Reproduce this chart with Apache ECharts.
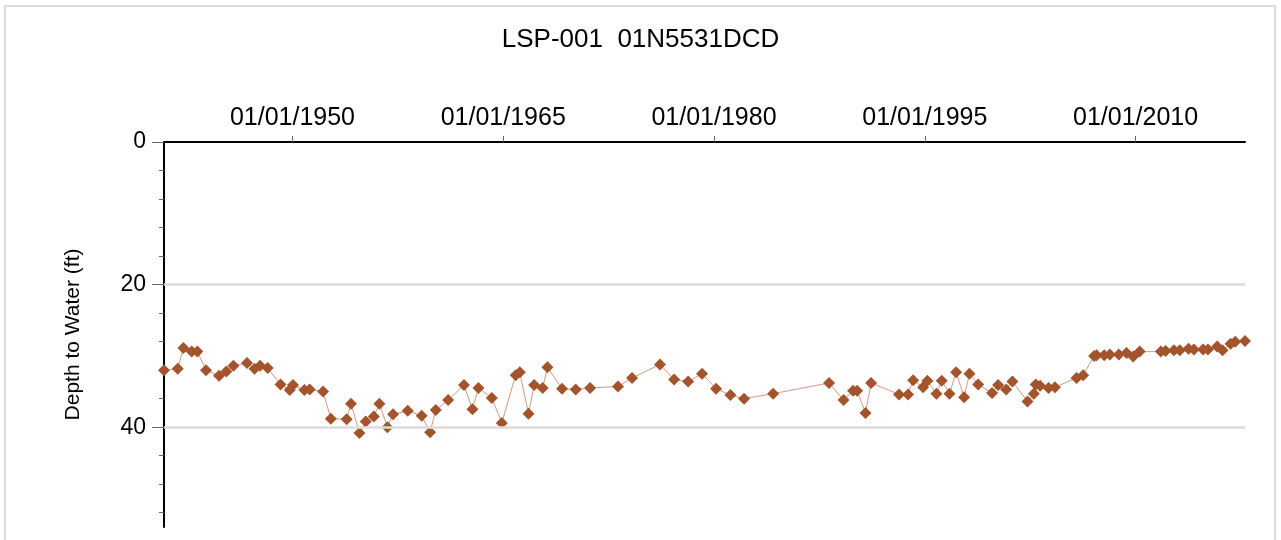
<!DOCTYPE html>
<html>
<head>
<meta charset="utf-8">
<script src="https://cdn.jsdelivr.net/npm/echarts@6/dist/echarts.min.js"></script>
<style>
  html, body { margin: 0; padding: 0; background: #fff; }
  #main { width: 1281px; height: 540px; }
</style>
</head>
<body>
<div id="main"></div>
<script>
var dates = [
    '1940-11-10', '1941-11-03', '1942-03-28', '1942-10-30', '1943-03-28', '1943-11-06',
    '1944-10-12', '1945-04-20', '1945-10-20', '1946-10-08', '1947-04-20', '1947-09-13',
    '1948-03-28', '1949-02-24', '1949-10-23', '1950-01-15', '1950-11-06', '1951-03-25',
    '1952-03-06', '1952-09-24', '1953-11-10', '1954-03-03', '1954-10-08', '1955-03-21',
    '1955-10-16', '1956-03-10', '1956-10-04', '1957-02-28', '1958-03-17', '1959-03-14',
    '1959-10-20', '1960-03-14', '1961-01-30', '1962-03-17', '1962-10-23', '1963-03-28',
    '1964-03-10', '1964-11-24', '1965-11-20', '1966-03-07', '1966-10-20', '1967-03-14',
    '1967-10-23', '1968-02-24', '1969-03-10', '1970-02-28', '1971-03-07', '1973-03-03',
    '1974-03-03', '1976-02-28', '1977-02-28', '1978-02-28', '1979-02-24', '1980-02-24',
    '1981-03-03', '1982-02-20', '1984-03-17', '1988-03-10', '1989-03-21', '1989-11-24',
    '1990-03-10', '1990-10-12', '1991-03-07', '1993-03-03', '1993-10-23', '1994-03-03',
    '1994-11-17', '1995-03-10', '1995-10-30', '1996-03-17', '1996-10-04', '1997-03-25',
    '1997-10-20', '1998-03-07', '1998-10-20', '1999-10-16', '2000-03-21', '2000-10-16',
    '2001-03-28', '2002-04-24', '2002-10-04', '2002-11-24', '2003-03-17', '2003-10-23',
    '2004-04-05', '2005-10-20', '2006-04-08', '2007-01-19', '2007-03-25', '2007-10-08',
    '2008-03-03', '2008-10-23', '2009-05-11', '2009-10-30', '2010-04-16', '2011-10-20',
    '2012-02-20', '2012-09-24', '2013-02-24', '2013-10-08', '2014-02-24', '2014-10-23',
    '2015-02-24', '2015-10-23', '2016-03-10', '2016-10-04', '2017-02-03', '2017-10-15'
];

// depth to water (ft)
var depths = [
    32.0, 31.8, 28.9, 29.4, 29.4, 32.0,
    32.8, 32.2, 31.4, 31.0, 31.8, 31.4,
    31.7, 34.0, 34.8, 34.1, 34.8, 34.7,
    35.0, 38.8, 38.9, 36.7, 40.8, 39.2,
    38.5, 36.7, 40.0, 38.2, 37.7, 38.4,
    40.7, 37.6, 36.2, 34.1, 37.5, 34.5,
    35.9, 39.4, 32.7, 32.3, 38.1, 34.1,
    34.5, 31.6, 34.6, 34.7, 34.5, 34.3,
    33.1, 31.2, 33.3, 33.6, 32.5, 34.6,
    35.5, 36.0, 35.3, 33.8, 36.2, 34.9,
    34.9, 38.0, 33.8, 35.4, 35.4, 33.4,
    34.4, 33.5, 35.3, 33.5, 35.3, 32.3,
    35.8, 32.5, 34.0, 35.2, 34.1, 34.7,
    33.6, 36.4, 35.3, 34.0, 34.2, 34.5,
    34.4, 33.1, 32.7, 30.0, 29.9, 29.9,
    29.8, 29.8, 29.6, 30.1, 29.4, 29.4,
    29.3, 29.2, 29.2, 29.0, 29.1, 29.1,
    29.1, 28.7, 29.2, 28.3, 28.0, 27.9
];

var xTickDates = ['1950-01-01', '1965-01-01', '1980-01-01', '1995-01-01', '2010-01-01'];
var yMajorTicks = [0, 20, 40];
var yMinorTicks = [4, 8, 12, 16, 24, 28, 32, 36, 44, 48, 52];
var yGridLines = [20, 40];

var font = 'Liberation Sans, Arial, sans-serif';
var chart = echarts.init(document.getElementById('main'), null, { renderer: 'canvas' });

var xTicks = xTickDates.map(function (d) { return echarts.time.parse(d).getTime(); });
var seriesData = dates.map(function (d, i) { return [d, depths[i]]; });

var option = {
    animation: false,
    backgroundColor: '#fff',
    title: {
        text: 'LSP-001  01N5531DCD',
        left: 'center',
        top: 22,
        textStyle: { fontFamily: font, fontSize: 26, fontWeight: 'normal', color: '#000' }
    },
    graphic: [{
        type: 'rect',
        shape: { x: 5, y: 6, width: 1270, height: 560 },
        style: { fill: 'none', stroke: '#dadada', lineWidth: 2 },
        silent: true
    }],
    grid: { left: 164, right: 36, top: 142, bottom: 13 },
    xAxis: {
        type: 'time',
        position: 'top',
        min: '1940-11-10',
        max: '2017-10-15',
        axisLine: { onZero: false, lineStyle: { color: '#000', width: 2 } },
        axisTick: { show: true, length: 6, customValues: xTicks, lineStyle: { color: '#666' } },
        axisLabel: {
            customValues: xTicks,
            formatter: '{MM}/{dd}/{yyyy}',
            fontFamily: font, fontSize: 25, color: '#000', margin: 11
        },
        splitLine: { show: false }
    },
    yAxis: [{
        type: 'value',
        inverse: true,
        min: 0,
        max: 54,
        interval: 20,
        name: 'Depth to Water (ft)',
        nameLocation: 'middle',
        nameGap: 80,
        nameTextStyle: { fontFamily: font, fontSize: 21, color: '#000' },
        axisLine: { show: true, onZero: false, lineStyle: { color: '#000', width: 2 } },
        axisTick: { show: true, length: 12, customValues: yMajorTicks, lineStyle: { color: '#666' } },
        axisLabel: { customValues: yMajorTicks, fontFamily: font, fontSize: 23, color: '#000', margin: 18 },
        splitLine: { show: false }
    }, {
        type: 'value',
        inverse: true,
        position: 'left',
        min: 0,
        max: 54,
        axisLine: { show: false },
        axisTick: { show: true, length: 5, customValues: yMinorTicks, lineStyle: { color: '#666' } },
        axisLabel: { show: false },
        splitLine: { show: false }
    }],
    series: [{
        type: 'line',
        data: [],
        z: 1,
        silent: true,
        markLine: {
            silent: true,
            symbol: 'none',
            label: { show: false },
            lineStyle: { color: '#dcdcdc', width: 2.5, type: 'solid' },
            data: yGridLines.map(function (v) { return { yAxis: v }; })
        }
    }, {
        name: 'Depth',
        type: 'line',
        z: 3,
        data: seriesData,
        symbol: 'diamond',
        symbolSize: 12,
        clip: false,
        itemStyle: { color: '#a3542c' },
        lineStyle: { color: '#cf9a82', width: 1 }
    }]
};

chart.setOption(option);
</script>
</body>
</html>
